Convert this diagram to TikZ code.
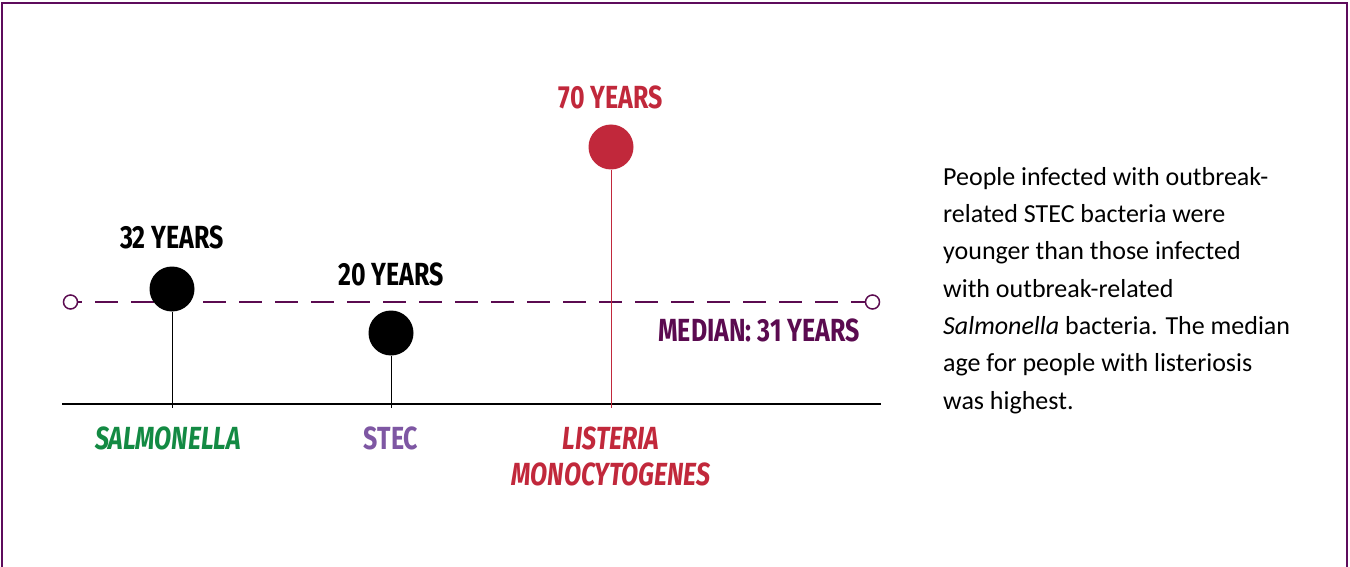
\documentclass[tikz,border=0pt]{standalone}
\usepackage{fontspec}
\setmainfont{Carlito}
\newfontfamily\condfont[FakeStretch=0.78]{Fira Sans}
\definecolor{framec}{HTML}{5E0C5C}
\definecolor{medc}{HTML}{5B0B50}
\definecolor{redc}{HTML}{C1283B}
\definecolor{greenc}{HTML}{138A43}
\definecolor{stecc}{HTML}{7E57A3}
\begin{document}
\begin{tikzpicture}[x=1pt,y=-1pt,
  dot/.style={circle,minimum size=45pt,inner sep=0pt},
  ring/.style={circle,draw=medc,line width=1.5pt,minimum size=14pt,inner sep=0pt,fill=white},
  lab/.style={inner sep=0pt,font=\condfont\bfseries\fontsize{32}{32}\selectfont},
  stem/.style={line width=1pt}]
\useasboundingbox (0,0) rectangle (1350,567);
% frame
\draw[framec,line width=1.2pt] (2,567) -- (2,3) -- (1347,3) -- (1347,567);
\draw[framec,line width=2pt] (2,3) -- (1347,3);
% baseline
\coordinate (bl) at (62,404);
\coordinate (br) at (881,404);
\draw[line width=1.5pt] (bl) -- (br);
% median line
\node[ring] (lc) at (70.5,302) {};
\node[ring] (rc) at (872.5,302) {};
\draw[medc,line width=2pt,dash pattern=on 23pt off 13pt,dash phase=19pt] (lc.east) -- (rc.west);
\node[lab,text=medc,anchor=east] (med) at (860,330) {MEDIAN: 31 YEARS};
% dots
\node[dot,fill=black] (sdot) at (172,289) {};
\node[dot,fill=black] (tdot) at (391,333) {};
\node[dot,fill=redc] (ldot) at (611,147) {};
\coordinate (sb) at (172,408);
\coordinate (tb) at (391,408);
\coordinate (lb) at (611,408);
\draw[stem] (sdot.south) -- (sb);
\draw[stem] (tdot.south) -- (tb);
\draw[stem,redc] (ldot.south) -- (lb);
% value labels
\node[lab] (sy) at (172,237) {32 YEARS};
\node[lab] (ty) at (391,274) {20 YEARS};
\node[lab,text=redc] (ly) at (611,97) {70 YEARS};
% category labels
\node[lab,text=greenc,font=\condfont\bfseries\itshape\fontsize{32}{32}\selectfont] (sn) at (168,438) {SALMONELLA};
\node[lab,text=stecc] (tn) at (391,438) {STEC};
\node[lab,text=redc,font=\condfont\bfseries\itshape\fontsize{32}{32}\selectfont,align=center] (ln) at (611,456) {LISTERIA\\[4pt]MONOCYTOGENES};
% paragraph
\node[anchor=north west,inner sep=0pt,align=left,font=\fontsize{26}{37.3}\selectfont] (txt) at (943,167)
 {People infected with outbreak-\\
  related STEC bacteria were\\
  younger than those infected\\
  with outbreak-related\\
  \textit{Salmonella} bacteria. The median\\
  age for people with listeriosis\\
  was highest.};
\end{tikzpicture}
\end{document}
